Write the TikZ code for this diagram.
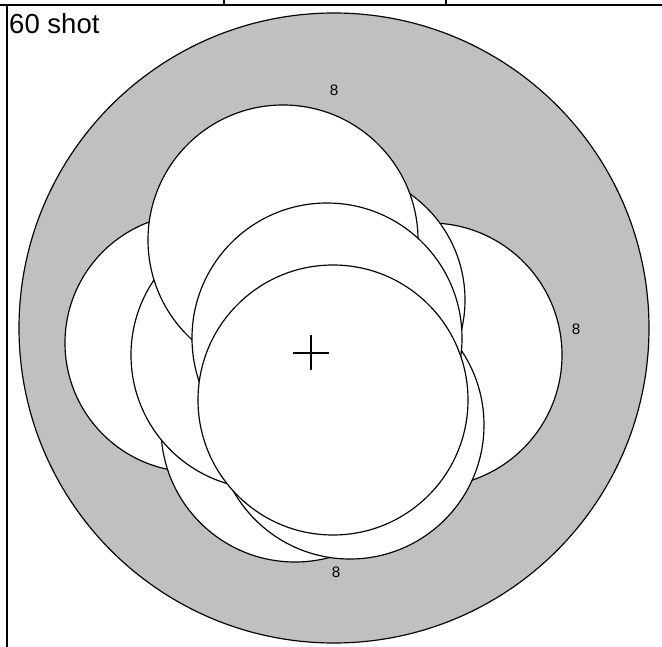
\documentclass[tikz,border=0pt]{standalone}
\usepackage{fontspec}
\setmainfont{Liberation Sans}
\usepackage{tikz}
\definecolor{targetgray}{RGB}{192,192,192}
\tikzset{
  target-frame/.style={draw=black, line width=1.3pt},
  target-ring/.style={draw=black, fill=targetgray, line width=1pt},
  shot-hole/.style={draw=black, fill=white, line width=1pt},
  ring-label/.style={font=\fontsize{13}{13}\selectfont, inner sep=0pt}
}

\begin{document}
\begin{tikzpicture}[x=0.03cm, y=-0.03cm]
  \useasboundingbox (0,0) rectangle (662,647);
  \draw[target-frame] (0,5) -- (662,5);
  \draw[target-frame] (7,5) -- (7,647);
  \draw[target-frame] (224,0) -- (224,5);
  \draw[target-frame] (446,0) -- (446,5);
  \node[font=\fontsize{23.5}{23.5}\selectfont, anchor=north west, inner sep=0pt] (title) at (9,13) {60 shot};
  \draw[target-ring] (334,328) circle (315);
  \node[ring-label] (top-ring) at (334,90) {8};
  \node[ring-label] (right-ring) at (576,329) {8};
  \node[ring-label] (bottom-ring) at (336,572) {8};
  \foreach \cx/\cy/\r in {194/343/129, 430/355/132, 295/428/134, 350/425/134,
                          335/300/130, 265/355/134, 283/240/135, 327/338/135, 333/400/135} {
    \draw[shot-hole] (\cx,\cy) circle (\r);
  }
  \draw[line width=0.9pt] (293,353) -- (329,353);
  \draw[line width=0.9pt] (311,335) -- (311,370);
\end{tikzpicture}
\end{document}
